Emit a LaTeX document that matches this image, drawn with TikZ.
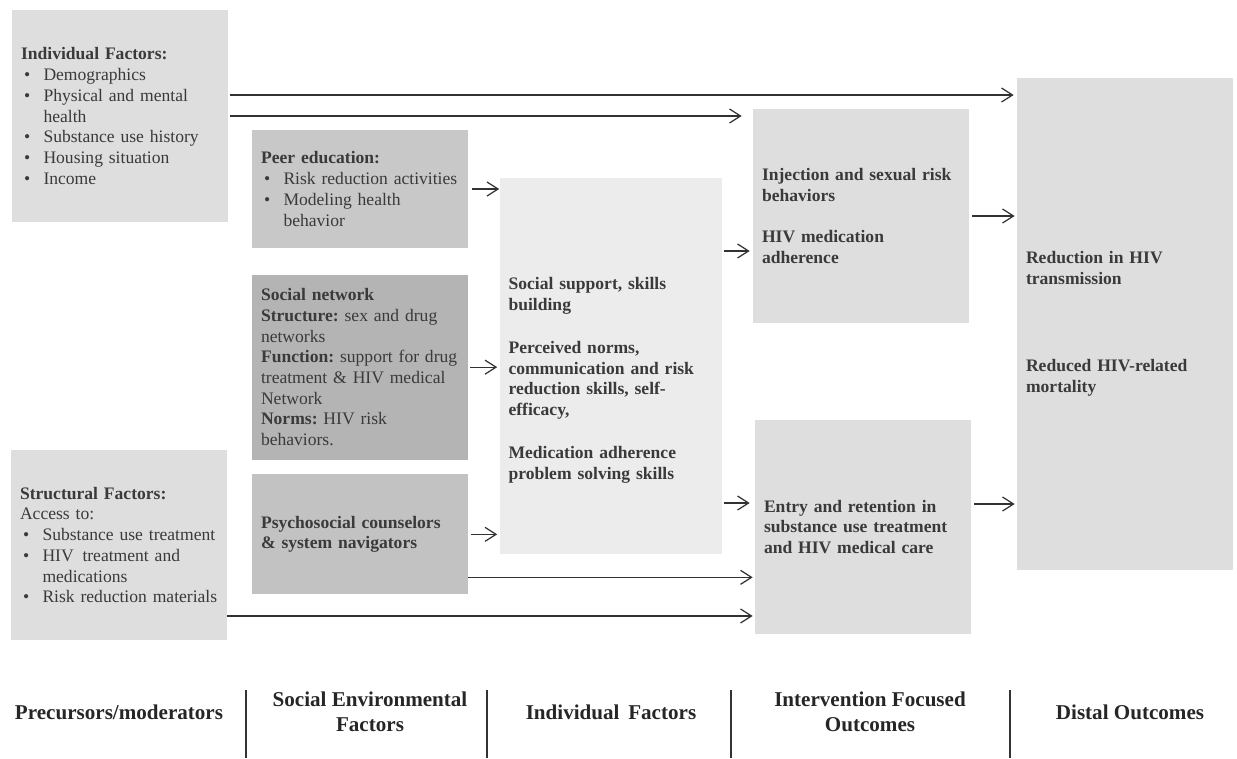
\documentclass[tikz,border=0pt]{standalone}
\usepackage{fontspec}
\setmainfont{Liberation Serif}
\usetikzlibrary{positioning,arrows.meta}

\definecolor{boxlight}{RGB}{222,222,222}
\definecolor{boxpale}{RGB}{236,236,236}
\definecolor{boxmid}{RGB}{200,200,200}
\definecolor{boxdark}{RGB}{180,180,180}
\definecolor{txtgray}{RGB}{58,58,58}
\definecolor{arrgray}{RGB}{50,50,50}

\newcommand{\bul}{\makebox[0.45cm][l]{\hspace{0.06cm}\textbullet}}
\newcommand{\hng}{\hspace*{0.45cm}}

\begin{document}
\begin{tikzpicture}[
		x=0.02cm, y=-0.02cm,
		> = {Straight Barb[length=2.2mm,width=2.8mm]},
		factor/.style = {fill=boxlight, inner xsep=0.18cm, text width=3.96cm,
			align=left, text=txtgray, font=\fontsize{10}{11.8}\selectfont\frenchspacing},
		outcome/.style = {factor, font=\fontsize{10}{11.8}\selectfont\frenchspacing\bfseries},
		arr/.style = {->, draw=arrgray, line width=0.7pt},
		stage/.style = {align=center, text=black!85, font=\fontsize{12}{14}\selectfont\bfseries}
		]
		\useasboundingbox (0,0) rectangle (1237,758);
		% Precursors / moderators
		\node[factor, minimum height=4.24cm] at (120,116) (IndF) {\textbf{Individual Factors:}\\
			\bul Demographics\\
			\bul Physical and mental\\ \hng health\\
			\bul Substance use history\\
			\bul Housing situation\\
			\bul Income};
		\node[factor, minimum height=3.8cm] at (119,545) (StrF) {\textbf{Structural Factors:}\\
			Access to:\\
			\bul Substance use treatment\\
			\bul HIV\, treatment and\\ \hng medications\\
			\bul Risk reduction materials};

		% Social environmental factors
		\node[factor, fill=boxmid, minimum height=2.36cm] at (360,189) (Peer) {\textbf{Peer education:}\\
			\bul Risk reduction activities\\
			\bul Modeling health\\ \hng behavior};
		\node[factor, fill=boxdark, minimum height=3.7cm, below=0.52cm of Peer] (SocNet) {\textbf{Social network}\\
			\textbf{Structure:} sex and drug\\ networks\\
			\textbf{Function:} support for drug\\ treatment \& HIV medical\\ Network\\
			\textbf{Norms:} HIV risk\\ behaviors.};
		\node[outcome, fill=boxmid!97!black, minimum height=2.4cm, below=0.28cm of SocNet] (Psych) {Psychosocial counselors\\ \& system navigators};

		% Individual factors
		\node[outcome, fill=boxpale, text width=4.1cm, minimum height=7.54cm] at (611,366) (Mid) {\rule{0pt}{0.4cm}\\ Social support, skills\\ building\\[0.45cm]
			Perceived norms,\\ communication and risk\\ reduction skills, self-\\ efficacy,\\[0.45cm]
			Medication adherence\\ problem solving skills};

		% Intervention focused outcomes
		\node[outcome, minimum height=4.28cm] at (861,216) (Inj) {Injection and sexual risk\\ behaviors\\[0.42cm]
			HIV medication\\ adherence};
		\node[outcome, minimum height=4.28cm] at (863,527) (Entry) {Entry and retention in\\ substance use treatment\\ and HIV medical care};

		% Distal outcomes
		\node[outcome, minimum height=9.86cm] at (1125,324) (Dist) {Reduction in HIV\\ transmission\\[1.33cm]
			Reduced HIV-related\\ mortality};

		% arrows
		\path[every edge/.style={arr}]
			([yshift=0.42cm]IndF.east) edge[shorten <=0.04cm, shorten >=0.06cm] ([yshift=0.42cm]IndF.east -| Dist.west)
			(IndF.east) edge[shorten <=0.04cm, shorten >=0.22cm] (IndF.east -| Inj.west)
			(Peer.east) edge[shorten <=0.08cm] (Peer.east -| Mid.west)
			(SocNet.east) edge[shorten <=0.04cm, shorten >=0.04cm] (SocNet.east -| Mid.west)
			(Psych.east) edge[shorten <=0.06cm, shorten >=0.04cm] (Psych.east -| Mid.west)
			([yshift=-0.7cm]Inj.west -| Mid.east) edge[shorten <=0.02cm, shorten >=0.06cm] ([yshift=-0.7cm]Inj.west)
			([yshift=0.48cm]Entry.west -| Mid.east) edge[shorten <=0.02cm, shorten >=0.1cm] ([yshift=0.48cm]Entry.west)
			(Inj.east) edge[shorten <=0.06cm, shorten >=0.04cm] (Inj.east -| Dist.west)
			([yshift=0.46cm]Entry.east) edge[shorten <=0.06cm, shorten >=0.04cm] ([yshift=0.46cm]Entry.east -| Dist.west)
			([yshift=-0.86cm]Psych.east) edge[shorten >=0.04cm] ([yshift=-0.86cm]Psych.east -| Entry.west)
			([yshift=-1.42cm]StrF.east) edge[shorten >=0.04cm] ([yshift=-1.42cm]StrF.east -| Entry.west);

		% stage labels
		\node[stage] at (119,712) (lblPre) {Precursors/moderators};
		\node[stage] at (370,712) (lblSoc) {Social Environmental\\ Factors};
		\node[stage] at (611,712) (lblInd) {Individual\, Factors};
		\node[stage] at (870,712) (lblInt) {Intervention Focused\\ Outcomes};
		\node[stage] at (1130,712) (lblDis) {Distal Outcomes};
		\foreach \sx in {246,487,731,1010}
			\draw[black!80, line width=0.6pt] (\sx,690) -- (\sx,758);
	\end{tikzpicture}
\end{document}
